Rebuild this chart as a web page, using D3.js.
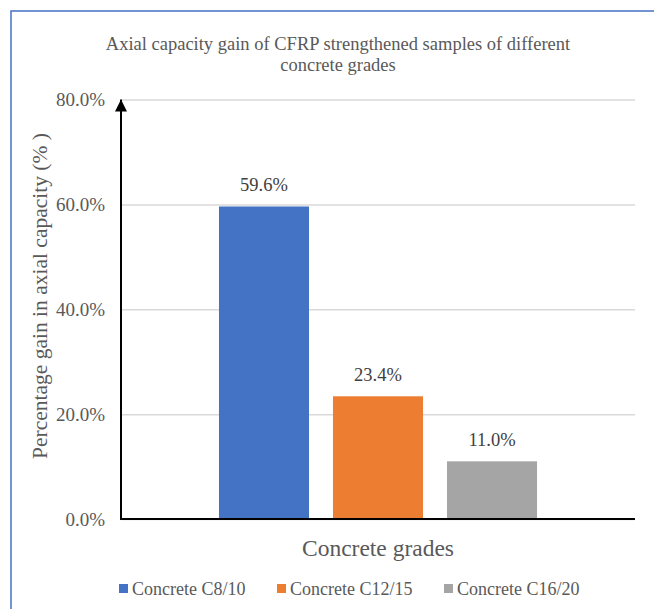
<!DOCTYPE html>
<html>
<head>
<meta charset="utf-8">
<script src="https://cdn.jsdelivr.net/npm/d3@7"></script>
<style>
  html, body { margin: 0; padding: 0; background: #fff; }
  svg { display: block; }
</style>
</head>
<body>
<script>
// Axial capacity gain per concrete grade (one group, three series)
const categories = [""];
const seriesNames = ["Concrete C8/10", "Concrete C12/15", "Concrete C16/20"];
const seriesValues = [59.6, 23.4, 11.0];
const seriesColors = ["#4472C4", "#ED7D31", "#A5A5A5"];
const yTicks = [0, 20, 40, 60, 80];

const FONT = "'Liberation Serif', 'Times New Roman', serif";
const W = 654, H = 609;
const plot = { left: 121, right: 635, top: 99.5, bottom: 519 };

const svg = d3.select("body").append("svg").attr("width", W).attr("height", H)
  .attr("font-family", FONT);

// chart frame
svg.append("rect").attr("x", 0).attr("y", 0).attr("width", W).attr("height", H).attr("fill", "#fff");
svg.append("path")
  .attr("d", `M11,${H} L11,11 L${W},11`)
  .attr("fill", "none").attr("stroke", "#4472C4").attr("stroke-width", 1.5);

// title
const title = svg.append("text").attr("text-anchor", "middle").attr("fill", "#595959")
  .attr("font-size", 18.5).attr("font-family", FONT);
title.append("tspan").attr("x", 338).attr("y", 50).text("Axial capacity gain of CFRP strengthened samples of different");
title.append("tspan").attr("x", 338).attr("y", 71).text("concrete grades");

const y = d3.scaleLinear().domain([0, 80]).range([plot.bottom, plot.top]);
const x0 = d3.scaleBand().domain(categories).range([plot.left, plot.right]).paddingOuter(0.308);
const x1 = d3.scaleBand().domain(seriesNames).range([0, x0.bandwidth()]).paddingInner(0.2105);

// gridlines + tick labels
const yAxis = d3.axisLeft(y).tickValues(yTicks).tickSize(-(plot.right - plot.left)).tickPadding(16)
  .tickFormat(d => d3.format(".1f")(d) + "%");
const gy = svg.append("g").attr("transform", `translate(${plot.left},0)`).call(yAxis)
  .attr("font-family", FONT).attr("font-size", 19);
gy.select(".domain").remove();
gy.selectAll(".tick line").attr("stroke", "#D9D9D9").attr("stroke-width", 1.5);
gy.selectAll(".tick text").attr("fill", "#595959");

// bars
const group = svg.append("g").selectAll("g").data(categories).join("g")
  .attr("transform", d => `translate(${x0(d)},0)`);
group.selectAll("rect")
  .data(() => seriesNames.map((s, i) => ({ s, v: seriesValues[i], c: seriesColors[i] })))
  .join("rect")
  .attr("x", d => x1(d.s))
  .attr("y", d => y(d.v))
  .attr("width", x1.bandwidth())
  .attr("height", d => y(0) - y(d.v))
  .attr("fill", d => d.c);

// value labels
group.selectAll("text.lbl")
  .data(() => seriesNames.map((s, i) => ({ s, v: seriesValues[i] })))
  .join("text").attr("class", "lbl")
  .attr("x", d => x1(d.s) + x1.bandwidth() / 2)
  .attr("y", d => y(d.v) - 15)
  .attr("text-anchor", "middle").attr("fill", "#404040").attr("font-size", 18.5)
  .attr("font-family", FONT)
  .text(d => d3.format(".1f")(d.v) + "%");

// x axis line
svg.append("line").attr("x1", plot.left).attr("x2", plot.right)
  .attr("y1", y(0)).attr("y2", y(0)).attr("stroke", "#000").attr("stroke-width", 2);

// y axis arrow
svg.append("defs").append("marker").attr("id", "arrow")
  .attr("viewBox", "0 0 10 10").attr("refX", 10).attr("refY", 5)
  .attr("markerWidth", 6).attr("markerHeight", 6).attr("markerUnits", "strokeWidth")
  .attr("orient", "auto")
  .append("path").attr("d", "M0,0 L10,5 L0,10 Z").attr("fill", "#000");
svg.append("line").attr("x1", plot.left).attr("x2", plot.left)
  .attr("y1", y(0) + 1).attr("y2", plot.top).attr("stroke", "#000").attr("stroke-width", 2)
  .attr("marker-end", "url(#arrow)");

// axis titles
svg.append("text").attr("x", 378).attr("y", 556).attr("text-anchor", "middle")
  .attr("fill", "#595959").attr("font-size", 23.5).attr("font-family", FONT).text("Concrete grades");
svg.append("text").attr("transform", `translate(47,296) rotate(-90)`).attr("text-anchor", "middle")
  .attr("fill", "#595959").attr("font-size", 21.5).attr("font-family", FONT)
  .text("Percentage gain in axial capacity (% )");

// legend
const legend = svg.append("g");
const legendX = [119, 277, 444];
seriesNames.forEach((s, i) => {
  const g = legend.append("g").attr("transform", `translate(${legendX[i]},584)`);
  g.append("rect").attr("width", 9).attr("height", 9).attr("fill", seriesColors[i]);
  g.append("text").attr("x", 13).attr("y", 10.5).attr("fill", "#595959").attr("font-size", 18)
    .attr("font-family", FONT).text(s);
});
</script>
</body>
</html>
